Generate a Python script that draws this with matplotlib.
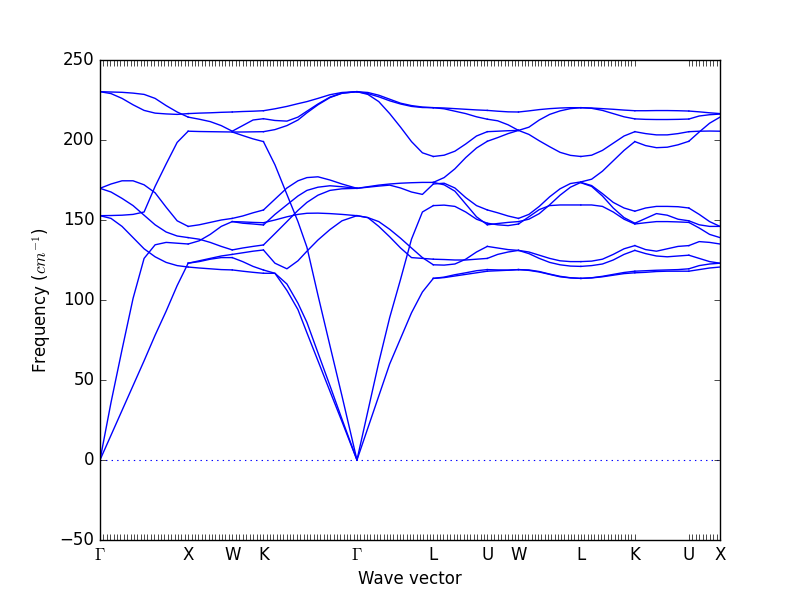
import numpy as np
import matplotlib
matplotlib.use("Agg")
import matplotlib.pyplot as plt

plt.style.use("classic")

# high-symmetry points along the fcc path and their cumulative distance (2pi/a)
labels = [r"$\Gamma$", "X", "W", "K", r"$\Gamma$", "L", "U", "W", "L", "K", "U", "X"]
sym_pos = [0.0, 1.0, 1.5, 1.8536, 2.9142, 3.7802, 4.3926, 4.7462, 5.4533, 6.0657, 6.6781, 7.0316]

# sample positions inside each segment (fraction of segment length)
t_gx = [0, 0.125, 0.25, 0.375, 0.5, 0.625, 0.75, 0.875, 1]
t_xw = [0, 0.25, 0.5, 0.75, 1]
t_wk = [0, 1 / 3, 2 / 3, 1]
t_kg = [0, 0.123, 0.251, 0.369, 0.465, 0.583, 0.711, 0.840, 1]
t_gl = [0, 1 / 7, 2 / 7, 3 / 7, 4 / 7, 5 / 7, 6 / 7, 1]
t_lu = [0, 0.2, 0.4, 0.6, 0.8, 1]
t_uw = [0, 1 / 3, 2 / 3, 1]
t_wl = [0, 1 / 6, 2 / 6, 3 / 6, 4 / 6, 5 / 6, 1]
t_lk = [0, 0.2, 0.4, 0.6, 0.8, 1]
t_ku = [0, 0.2, 0.4, 0.6, 0.8, 1]
t_ux = [0, 1 / 3, 2 / 3, 1]

# phonon branches (cm^-1)
f_gx = [
    [0, 15.5, 31, 46.5, 62, 78, 93, 109, 123],
    [0, 36, 69, 101, 126, 134.5, 136, 135.5, 135],
    [152.7, 151, 146, 139, 132, 127, 123.5, 121.5, 120.6],
    [152.7, 152.8, 153, 153.5, 155, 171, 185, 198.5, 205.5],
    [169.8, 172.5, 174.5, 174.5, 172, 167, 158, 149.5, 146],
    [169.8, 167.5, 163.5, 159, 153, 147, 142.5, 140, 139],
    [230.2, 230, 229.8, 229.3, 228.5, 226, 221.5, 217.5, 214.3],
    [230.2, 229, 226, 222, 218.5, 216.8, 216.3, 216, 216.5],
]
f_xw = [
    [123, 124, 125.5, 126.5, 126.5],
    [123, 124.5, 126, 127.5, 128.5],
    [120.6, 120, 119.5, 119, 118.8],
    [139, 138, 136, 133.5, 131.3],
    [135, 137, 141, 146, 149],
    [146, 147, 148.5, 150, 151],
    [205.5, 205.3, 205.2, 205.1, 205],
    [214.3, 213, 211.5, 209, 205.5],
    [216.5, 216.8, 217, 217.3, 217.5],
]
f_wk = [
    [217.5, 217.8, 218, 218.3],
    [205.5, 209, 212.5, 213.3],
    [205, 205, 205.1, 205.2],
    [205, 202.8, 200.7, 199],
    [151, 152.5, 154.5, 156.25],
    [149, 148.8, 148.5, 148.3],
    [149, 148, 147.5, 146.9],
    [131.3, 132.5, 133.5, 134.4],
    [128.5, 129.5, 130.5, 131.25],
    [126.5, 124, 121, 118.75],
    [118.8, 118, 117.3, 116.7],
]
f_kg = [
    [218.3, 219.5, 221, 222.7, 224, 226, 228.3, 229.7, 230.2],
    [213.3, 212.2, 211.8, 214.3, 218, 222.5, 226.8, 229.3, 230.2],
    [205.2, 206.5, 209, 212.5, 217, 222, 226.5, 229.2, 230.2],
    [199, 184.5, 166, 149, 133, 103, 71.5, 40, 0],
    [156.25, 163, 170, 174.5, 176.5, 177, 175, 172.5, 169.8],
    [148.3, 150, 152, 153.5, 154.2, 154.3, 154, 153.5, 152.7],
    [146.9, 153.5, 159.5, 165, 168.5, 170.5, 171.4, 170.8, 169.8],
    [134.4, 141.5, 149, 156, 161, 165.5, 168.5, 169.5, 169.8],
    [131.25, 123, 119.5, 124.5, 130.5, 137.5, 144, 149.5, 152.7],
    [118.75, 116.7, 106, 94, 79.5, 62, 43, 24, 0],
    [116.7, 116.7, 110, 98, 86, 67, 46.5, 25.5, 0],
]
f_gl = [
    [230.2, 229.7, 228, 225.5, 223, 221.5, 220.6, 220.2],
    [230.2, 229, 227, 224.5, 222.5, 221, 220.3, 220.2],
    [230.2, 228.5, 224, 216.5, 208, 199, 192, 189.7],
    [169.8, 170.8, 171.8, 172.5, 173, 173.3, 173.5, 173.5],
    [169.8, 170.5, 171.2, 171.8, 170, 167.5, 166, 172.5],
    [0, 30.5, 61, 89, 113, 138, 155, 159],
    [152.7, 151.5, 146, 139.5, 132.5, 126.5, 126, 125.5],
    [152.7, 151.5, 149, 144.2, 138.6, 132.5, 126.5, 122],
    [0, 20, 40, 60, 76, 92, 105, 113.5],
]
f_lu = [
    [220.2, 220, 219.6, 219.2, 218.8, 218.5],
    [220.2, 219.5, 218, 216.5, 214.5, 213],
    [189.7, 190.5, 193, 197.5, 202.5, 205.2],
    [173.5, 176.5, 182, 189, 195, 199.2],
    [172.5, 173, 170, 164, 159, 156.3],
    [173.5, 172, 168, 160, 152, 147],
    [159, 159.3, 158.5, 155, 150.5, 148],
    [122, 121.8, 122.5, 125.5, 130, 133.5],
    [125.5, 125.3, 125, 125, 125.5, 126],
    [113.5, 114, 115, 116, 117, 118],
    [113.5, 114.3, 115.8, 117, 118.3, 119],
]
f_uw = [
    [218.5, 218, 217.6, 217.5],
    [213, 212, 209.5, 206],
    [205.2, 205.5, 205.8, 206],
    [199.2, 201.5, 204, 206],
    [156.3, 154.5, 152.5, 151],
    [147, 147.8, 148.5, 149],
    [148, 147, 146.5, 147.5],
    [133.5, 132.5, 131.5, 131],
    [126, 128.5, 130, 131],
    [118, 118.3, 118.6, 119],
    [119, 118.8, 118.7, 119],
]
f_wl = [
    [217.5, 218.2, 219, 219.6, 220, 220.2, 220.2],
    [206, 208, 212.5, 216, 218.2, 219.6, 220.2],
    [206, 203.5, 199.5, 195.8, 192.3, 190.4, 189.7],
    [151, 153.5, 158.5, 164.5, 169.5, 172.8, 173.8],
    [149, 150.5, 154, 159.5, 165.5, 170.5, 173.5],
    [147.5, 152, 156.5, 159, 159.4, 159.4, 159.4],
    [131, 130, 128, 126, 124.5, 124, 124],
    [131, 129, 126, 123.5, 122, 121.2, 121],
    [119, 118.5, 117.5, 116, 114.5, 113.8, 113.5],
    [119, 118.8, 117.8, 116.2, 114.8, 113.9, 113.5],
]
f_lk = [
    [220.2, 220, 219.6, 219.2, 218.7, 218.3],
    [220.2, 219.8, 218.5, 216.5, 214.5, 213.2],
    [189.7, 190.5, 193.5, 198, 202.5, 205.2],
    [173.8, 175.5, 180.5, 187, 193.5, 199],
    [173.5, 171.5, 166.5, 161, 157.5, 155.5],
    [173.3, 171, 165, 157.5, 151.5, 148],
    [159.4, 159.4, 158.5, 155, 150.5, 147.5],
    [124, 124.3, 125.5, 128.5, 132, 134],
    [121, 121.5, 122.5, 125, 128.5, 131],
    [113.5, 113.8, 114.5, 115.5, 116.5, 117],
    [113.5, 113.9, 114.8, 116, 117.2, 118],
]
f_ku = [
    [218.3, 218.3, 218.4, 218.4, 218.3, 218.1],
    [213.2, 212.9, 212.8, 212.8, 212.9, 213.1],
    [205.2, 204, 203.2, 203.2, 204, 205.2],
    [199, 196.5, 195.2, 195.5, 197, 199.2],
    [155.5, 157.5, 158.5, 158.5, 158.3, 157.5],
    [148, 151, 154, 153, 150.5, 149.5],
    [147.5, 148.3, 149, 149, 148.8, 148.5],
    [134, 131.5, 130.5, 132, 133.5, 134],
    [131, 129, 127.5, 127, 127.5, 128],
    [117, 117.3, 117.8, 118, 118, 118],
    [118, 118.3, 118.6, 118.8, 119, 119.5],
]
f_ux = [
    [218.1, 217.6, 217, 216.5],
    [213.1, 215, 215.8, 216.2],
    [205.2, 205.5, 205.6, 205.5],
    [199.2, 205, 210.5, 214.3],
    [157.5, 153.5, 149, 146],
    [149.5, 147, 146, 146],
    [148.5, 145, 141, 139],
    [134, 136.5, 136, 135],
    [128, 126, 124, 123],
    [118, 119, 120, 120.6],
    [119.5, 121.5, 122.5, 123],
]

segments = [
    (t_gx, f_gx), (t_xw, f_xw), (t_wk, f_wk), (t_kg, f_kg), (t_gl, f_gl),
    (t_lu, f_lu), (t_uw, f_uw), (t_wl, f_wl), (t_lk, f_lk), (t_ku, f_ku), (t_ux, f_ux),
]

fig = plt.figure(figsize=(8, 6))
ax = fig.add_subplot(111)

for i, (t, branches) in enumerate(segments):
    a, b = sym_pos[i], sym_pos[i + 1]
    x = a + np.array(t) * (b - a)
    for f in branches:
        ax.plot(x, f, color="b", lw=1)

ax.axhline(0, color="b", ls=":", lw=0.8)

# a tick at every sampled q-point; the K|U jump has none
tick_pos = []
for i in range(len(sym_pos) - 1):
    if i == 9:
        continue
    a, b = sym_pos[i], sym_pos[i + 1]
    n = max(1, int(round((b - a) * 26.5)))
    tick_pos.extend(np.linspace(a, b, n + 1))
tick_pos = sorted(set(np.round(tick_pos, 4)))

tick_labels = []
for p in tick_pos:
    lab = ""
    for s, l in zip(sym_pos, labels):
        if abs(s - p) < 1e-3:
            lab = l
    tick_labels.append(lab)

ax.set_xticks(tick_pos)
ax.set_xticklabels(tick_labels)
ax.set_xlim(sym_pos[0], sym_pos[-1])
ax.set_ylim(-50, 250)

ax.set_xlabel("Wave vector")
ax.set_ylabel("Frequency ($cm^{-1}$)")

plt.savefig("out.png", dpi=100)
plt.close()
